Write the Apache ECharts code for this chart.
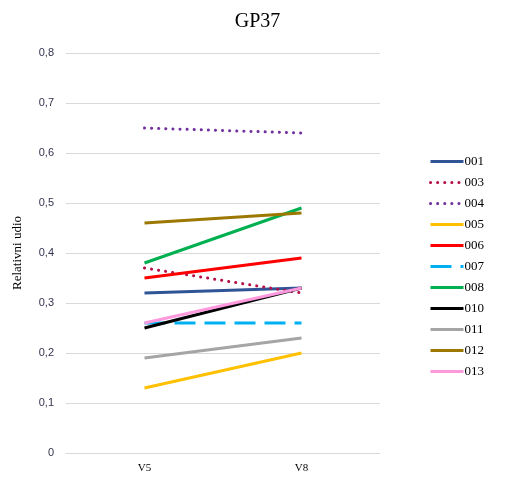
<!DOCTYPE html>
<html><head><meta charset="utf-8">
<script src="https://cdn.jsdelivr.net/npm/echarts@6/dist/echarts.min.js"></script>
<style>html,body{margin:0;padding:0;background:#fff}#c{width:515px;height:477px}</style>
</head><body><div id="c"></div>
<script>
const categories = ['V5', 'V8'];
const yTicks = [0, 0.1, 0.2, 0.3, 0.4, 0.5, 0.6, 0.7, 0.8];
const s001 = [0.32, 0.33];
const s003 = [0.37, 0.32];
const s004 = [0.65, 0.64];
const s005 = [0.13, 0.20];
const s006 = [0.35, 0.39];
const s007 = [0.26, 0.26];
const s008 = [0.38, 0.49];
const s010 = [0.25, 0.33];
const s011 = [0.19, 0.23];
const s012 = [0.46, 0.48];
const s013 = [0.26, 0.33];

const defs = [
  ['001', s001, '#2F5597', 'solid'],
  ['003', s003, '#B4104B', [0.1, 7]],
  ['004', s004, '#7030A0', [0.1, 7]],
  ['005', s005, '#FFC000', 'solid'],
  ['006', s006, '#FF0000', 'solid'],
  ['007', s007, '#00B0F0', [21, 9]],
  ['008', s008, '#00B050', 'solid'],
  ['010', s010, '#000000', 'solid'],
  ['011', s011, '#A5A5A5', 'solid'],
  ['012', s012, '#9C7800', 'solid'],
  ['013', s013, '#FF99DD', 'solid']
];

const series = defs.map(d => ({
  name: d[0], type: 'line', data: d[1], symbol: 'none', silent: true,
  itemStyle: {color: d[2]},
  lineStyle: {color: d[2], width: 3, type: d[3], cap: Array.isArray(d[3]) && d[3][0] < 1 ? 'round' : 'butt'}
}));

const chart = echarts.init(document.getElementById('c'));
chart.setOption({
  animation: false,
  title: {text: 'GP37', left: 'center', top: 7,
    textStyle: {fontFamily: 'Liberation Serif', fontSize: 20, fontWeight: 'normal', color: '#000'}},
  grid: {left: 66, right: 135, top: 53, bottom: 24, containLabel: false},
  legend: {
    orient: 'vertical', left: 424, top: 150, itemWidth: 33, itemHeight: 14, itemGap: 8,
    itemStyle: {opacity: 0},
    lineStyle: {width: 3},
    textStyle: {fontFamily: 'Liberation Serif', fontSize: 13, color: '#000', padding: [0,0,0,-4]},
    data: defs.map(d => d[0])
  },
  xAxis: {
    type: 'category', data: categories, boundaryGap: true,
    axisLine: {show: true, lineStyle: {color: '#d9d9d9'}},
    axisTick: {show: false},
    axisLabel: {fontFamily: 'Liberation Serif', fontSize: 11, color: '#000', margin: 10}
  },
  yAxis: {
    type: 'value', min: 0, max: 0.8, interval: 0.1,
    name: 'Relativni udio', nameLocation: 'middle', nameGap: 42,
    nameTextStyle: {fontFamily: 'Liberation Serif', fontSize: 13, color: '#000'},
    axisLine: {show: false}, axisTick: {show: false},
    splitLine: {lineStyle: {color: '#d9d9d9', width: 1}},
    axisLabel: {fontFamily: 'Liberation Sans', fontSize: 11, color: '#333350', margin: 12,
      formatter: v => yTicks.includes(Math.round(v*10)/10) ? String(Math.round(v*10)/10).replace('.', ',') : ''}
  },
  series: series
});
</script></body></html>
